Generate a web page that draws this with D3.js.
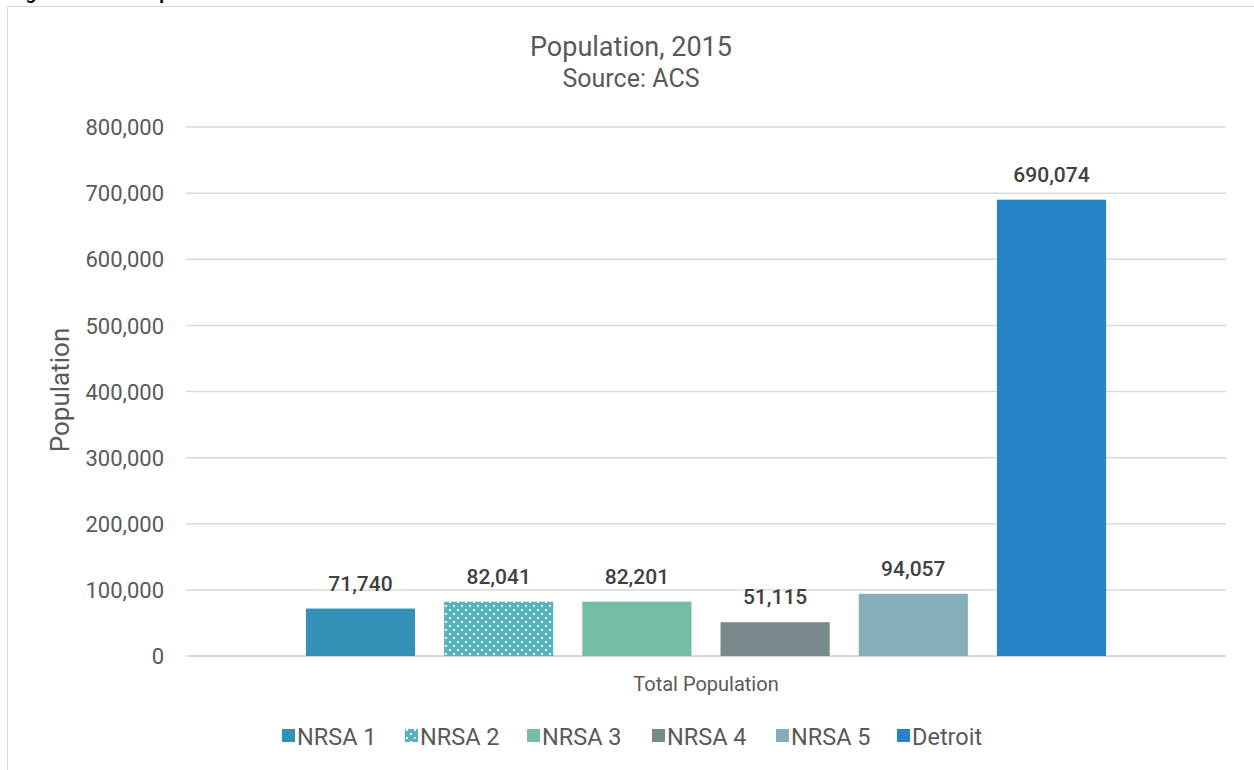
<!DOCTYPE html>
<html>
<head>
<meta charset="utf-8">
<script src="https://cdn.jsdelivr.net/npm/d3@7"></script>
<style>
  body { margin: 0; background: #fff; }
  text { font-family: Roboto, "Noto Sans", sans-serif; }
</style>
</head>
<body>
<div id="chart"></div>
<script>
// data
let series = ["NRSA 1", "NRSA 2", "NRSA 3", "NRSA 4", "NRSA 5", "Detroit"];
let values = [71740, 82041, 82201, 51115, 94057, 690074];
let colors = ["#3391b8", "#55b4bf", "#74bea5", "#7a8a8c", "#84aeb8", "#2683c6"];
let category = ["Total Population"];
let yTicks = [0, 100000, 200000, 300000, 400000, 500000, 600000, 700000, 800000];

let width = 1254, height = 770;
let margin = { top: 127, right: 28, bottom: 114, left: 186 };

let svg = d3.select("#chart").append("svg")
  .attr("width", width)
  .attr("height", height);

// pattern for NRSA 2
let pat = svg.append("defs").append("pattern")
  .attr("id", "dots")
  .attr("patternUnits", "userSpaceOnUse")
  .attr("width", 8).attr("height", 8);
pat.append("rect").attr("width", 8).attr("height", 8).attr("fill", colors[1]);
pat.append("rect").attr("x", 1).attr("y", 1).attr("width", 2).attr("height", 2).attr("fill", "#fff");
pat.append("rect").attr("x", 5).attr("y", 5).attr("width", 2).attr("height", 2).attr("fill", "#fff");

let fillOf = (d, i) => i == 1 ? "url(#dots)" : colors[i];

// caption, cut off at the top as in the page it came from
svg.append("text")
  .attr("x", 10).attr("y", -1)
  .attr("font-size", 19).attr("font-weight", "bold")
  .attr("fill", "#000")
  .text("Figure 1: Total Population");

// chart border
svg.append("rect")
  .attr("x", 7.5).attr("y", 6.5)
  .attr("width", 1400).attr("height", 900)
  .attr("fill", "none")
  .attr("stroke", "#d9d9d9");

let x0 = d3.scaleBand()
  .domain(category)
  .range([margin.left, width - margin.right]);

let x1 = d3.scaleBand()
  .domain(series)
  .range([x0(category[0]), x0(category[0]) + x0.bandwidth()])
  .paddingInner(0.21)
  .paddingOuter(0.8675);

let y = d3.scaleLinear()
  .domain([0, 800000])
  .range([height - margin.bottom, margin.top]);

let fmt = d3.format(",");

// gridlines
svg.append("g")
  .selectAll("line")
  .data(yTicks)
  .join("line")
  .attr("x1", margin.left).attr("x2", width - margin.right)
  .attr("y1", d => y(d)).attr("y2", d => y(d))
  .attr("stroke", "#d9d9d9")
  .attr("stroke-width", d => d == 0 ? 2 : 1.5);

// y axis labels
let yAxis = svg.append("g")
  .attr("transform", `translate(${margin.left - 22},0)`)
  .call(d3.axisLeft(y).tickValues(yTicks).tickFormat(fmt).tickSize(0).tickPadding(0));
yAxis.select(".domain").remove();
yAxis.selectAll("text")
  .attr("font-family", "Roboto, sans-serif")
  .attr("font-size", 22)
  .attr("fill", "#595959")
  .attr("dy", "0.35em");

// bars
svg.append("g")
  .selectAll("rect")
  .data(values)
  .join("rect")
  .attr("x", (d, i) => x1(series[i]))
  .attr("y", d => y(d))
  .attr("width", x1.bandwidth())
  .attr("height", d => y(0) - y(d))
  .attr("fill", fillOf);

// value labels
svg.append("g")
  .selectAll("text")
  .data(values)
  .join("text")
  .attr("x", (d, i) => x1(series[i]) + x1.bandwidth() / 2)
  .attr("y", d => y(d) - 18)
  .attr("text-anchor", "middle")
  .attr("font-size", 21)
  .attr("font-weight", 500)
  .attr("fill", "#404040")
  .text(d => fmt(d));

// x category label
svg.append("text")
  .attr("x", x0(category[0]) + x0.bandwidth() / 2)
  .attr("y", 691)
  .attr("text-anchor", "middle")
  .attr("font-size", 20)
  .attr("fill", "#595959")
  .text(category[0]);

// y title
svg.append("text")
  .attr("transform", "translate(69,390) rotate(-90)")
  .attr("text-anchor", "middle")
  .attr("font-size", 26)
  .attr("fill", "#595959")
  .text("Population");

// titles
svg.append("text")
  .attr("x", 631).attr("y", 56)
  .attr("text-anchor", "middle")
  .attr("font-size", 27)
  .attr("fill", "#595959")
  .text("Population, 2015");
svg.append("text")
  .attr("x", 631).attr("y", 87)
  .attr("text-anchor", "middle")
  .attr("font-size", 25)
  .attr("fill", "#595959")
  .text("Source: ACS");

// legend
let legX = [282, 405, 527, 652, 776, 897];
let leg = svg.append("g")
  .selectAll("g")
  .data(series)
  .join("g")
  .attr("transform", (d, i) => `translate(${legX[i]},736)`);
leg.append("rect")
  .attr("x", 0).attr("y", -7)
  .attr("width", 13).attr("height", 13)
  .attr("fill", fillOf);
leg.append("text")
  .attr("x", 15).attr("y", 8.5)
  .attr("font-size", 23.5)
  .attr("fill", "#595959")
  .text(d => d);
</script>
</body>
</html>
